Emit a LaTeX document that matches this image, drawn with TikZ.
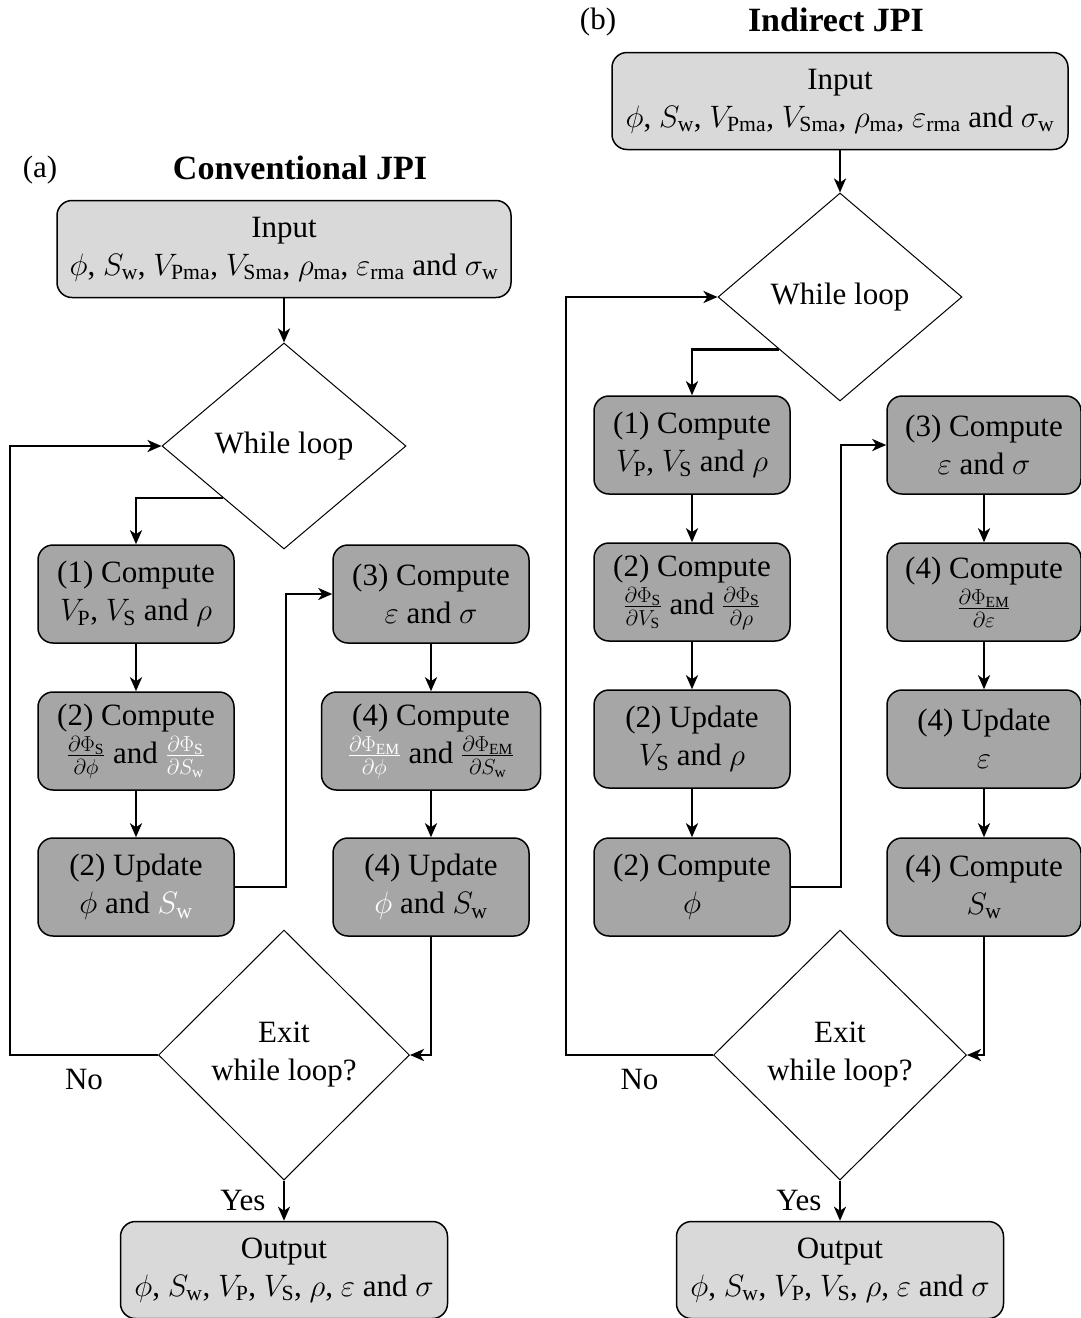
\RequirePackage{fix-cm}
\documentclass[tikz,border=0pt]{standalone}
\usepackage{fontspec}
\setmainfont{Liberation Serif}
\usetikzlibrary{shapes.geometric,arrows.meta}
\begin{document}
\begin{tikzpicture}[x=1pt,y=-1pt,
	every node/.style={font=\fontsize{31}{38}\selectfont},
	title/.style={font=\fontsize{34}{40}\selectfont\bfseries},
	iobox/.style={draw,line width=1.5pt,rounded corners=15pt,fill=gray!30,align=center,minimum height=97pt,inner sep=2pt},
	stepbox/.style={draw,line width=1.5pt,rounded corners=15pt,fill=gray!70,align=center,minimum width=196pt,minimum height=98pt,inner sep=2pt},
	decision/.style={draw,diamond,line width=1pt,align=center,inner sep=0pt},
	arr/.style={line width=2.5pt,-{Stealth[length=14pt,width=12pt,inset=4pt]}}]
	\useasboundingbox (0,0) rectangle (1081,1318);
	
	% Text Node
	\node (labA) at (40,170) {(a)};
	\node[title] (ttlA) at (300,168) {Conventional JPI};
	\node (labB) at (598,22) {(b)};
	\node[title] (ttlB) at (836,20) {Indirect JPI};
	
	%Shape: Conventional JPI
	\node[iobox,minimum width=454pt] (inA) at (284,249) {Input\\ $\phi$, $S_\mathrm{w}$, $V_\mathrm{Pma}$, $V_\mathrm{Sma}$, $\rho_\mathrm{ma}$, $\varepsilon_\mathrm{rma}$ and $\sigma_\mathrm{w}$};
	\node[decision,minimum width=244pt,minimum height=206pt] (loopA) at (284,446) {While loop};
	\node[stepbox] (cmpA1) at (136,594) {(1) Compute\\ $V_\mathrm{P}$, $V_\mathrm{S}$ and $\rho$};
	\node[stepbox] (cmpA2) at (136,741) {(2) Compute\\ $\frac{\partial\Phi_\mathrm{S}}{\partial\phi}$ and \textcolor{white}{$\frac{\partial\Phi_\mathrm{S}}{\partial S_\mathrm{w}}$}};
	\node[stepbox] (updA2) at (136,887) {(2) Update\\ $\phi$ and \textcolor{white}{$S_\mathrm{w}$}};
	\node[stepbox] (cmpA3) at (431,594) {(3) Compute\\ $\varepsilon$ and $\sigma$};
	\node[stepbox,minimum width=219pt] (cmpA4) at (431,741) {(4) Compute\\ \textcolor{white}{$\frac{\partial\Phi_\mathrm{EM}}{\partial\phi}$} and $\frac{\partial\Phi_\mathrm{EM}}{\partial S_\mathrm{w}}$};
	\node[stepbox] (updA4) at (431,887) {(4) Update\\ \textcolor{white}{$\phi$} and $S_\mathrm{w}$};
	\node[decision,minimum width=251pt,minimum height=250pt] (exitA) at (284,1055) {Exit\\ while loop?};
	\node[iobox,minimum width=327pt] (outA) at (284,1270) {Output\\ $\phi$, $S_\mathrm{w}$, $V_\mathrm{P}$, $V_\mathrm{S}$, $\rho$, $\varepsilon$ and $\sigma$};
	
	%Straight Lines
	\draw[arr] (inA) -- (loopA);
	\draw[arr] (loopA.south west) -| (cmpA1.north);
	\draw[arr] (cmpA1) -- (cmpA2);
	\draw[arr] (cmpA2) -- (updA2);
	\draw[arr] (updA2.east) -- ++(51,0) |- (cmpA3.west);
	\draw[arr] (cmpA3) -- (cmpA4);
	\draw[arr] (cmpA4) -- (updA4);
	\draw[arr] (updA4.south) |- (exitA.east);
	\draw[arr] (exitA.west) -- node[below=10pt] {No} ++(-148,0) |- (loopA.west);
	\draw[arr] (exitA.south) -- node[left=14pt] {Yes} (outA.north);
	
	%Shape: Indirect JPI
	\node[iobox,minimum width=456pt] (inB) at (840,101) {Input\\ $\phi$, $S_\mathrm{w}$, $V_\mathrm{Pma}$, $V_\mathrm{Sma}$, $\rho_\mathrm{ma}$, $\varepsilon_\mathrm{rma}$ and $\sigma_\mathrm{w}$};
	\node[decision,minimum width=244pt,minimum height=208pt] (loopB) at (840,297) {While loop};
	\node[stepbox] (cmpB1) at (692,445) {(1) Compute\\ $V_\mathrm{P}$, $V_\mathrm{S}$ and $\rho$};
	\node[stepbox] (cmpB2) at (692,592) {(2) Compute\\ $\frac{\partial\Phi_\mathrm{S}}{\partial V_\mathrm{S}}$ and $\frac{\partial\Phi_\mathrm{S}}{\partial\rho}$};
	\node[stepbox] (updB2) at (692,739) {(2) Update\\ $V_\mathrm{S}$ and $\rho$};
	\node[stepbox] (phiB2) at (692,887) {(2) Compute\\ $\phi$};
	\node[stepbox,minimum width=194pt] (cmpB3) at (984,445) {(3) Compute\\ $\varepsilon$ and $\sigma$};
	\node[stepbox,minimum width=194pt] (cmpB4) at (984,592) {(4) Compute\\ $\frac{\partial\Phi_\mathrm{EM}}{\partial\varepsilon}$};
	\node[stepbox,minimum width=194pt] (updB4) at (984,739) {(4) Update\\ $\varepsilon$};
	\node[stepbox,minimum width=194pt] (swB4) at (984,887) {(4) Compute\\ $S_\mathrm{w}$};
	\node[decision,minimum width=253pt,minimum height=250pt] (exitB) at (840,1055) {Exit\\ while loop?};
	\node[iobox,minimum width=327pt] (outB) at (840,1270) {Output\\ $\phi$, $S_\mathrm{w}$, $V_\mathrm{P}$, $V_\mathrm{S}$, $\rho$, $\varepsilon$ and $\sigma$};
	
	%Straight Lines
	\draw[arr] (inB) -- (loopB);
	\draw[arr] (loopB.south west) -| (cmpB1.north);
	\draw[arr] (cmpB1) -- (cmpB2);
	\draw[arr] (cmpB2) -- (updB2);
	\draw[arr] (updB2) -- (phiB2);
	\draw[arr] (phiB2.east) -- ++(50,0) |- (cmpB3.west);
	\draw[arr] (cmpB3) -- (cmpB4);
	\draw[arr] (cmpB4) -- (updB4);
	\draw[arr] (updB4) -- (swB4);
	\draw[arr] (swB4.south) |- (exitB.east);
	\draw[arr] (exitB.west) -- node[below=10pt] {No} ++(-147,0) |- (loopB.west);
	\draw[arr] (exitB.south) -- node[left=14pt] {Yes} (outB.north);
\end{tikzpicture}
\end{document}
